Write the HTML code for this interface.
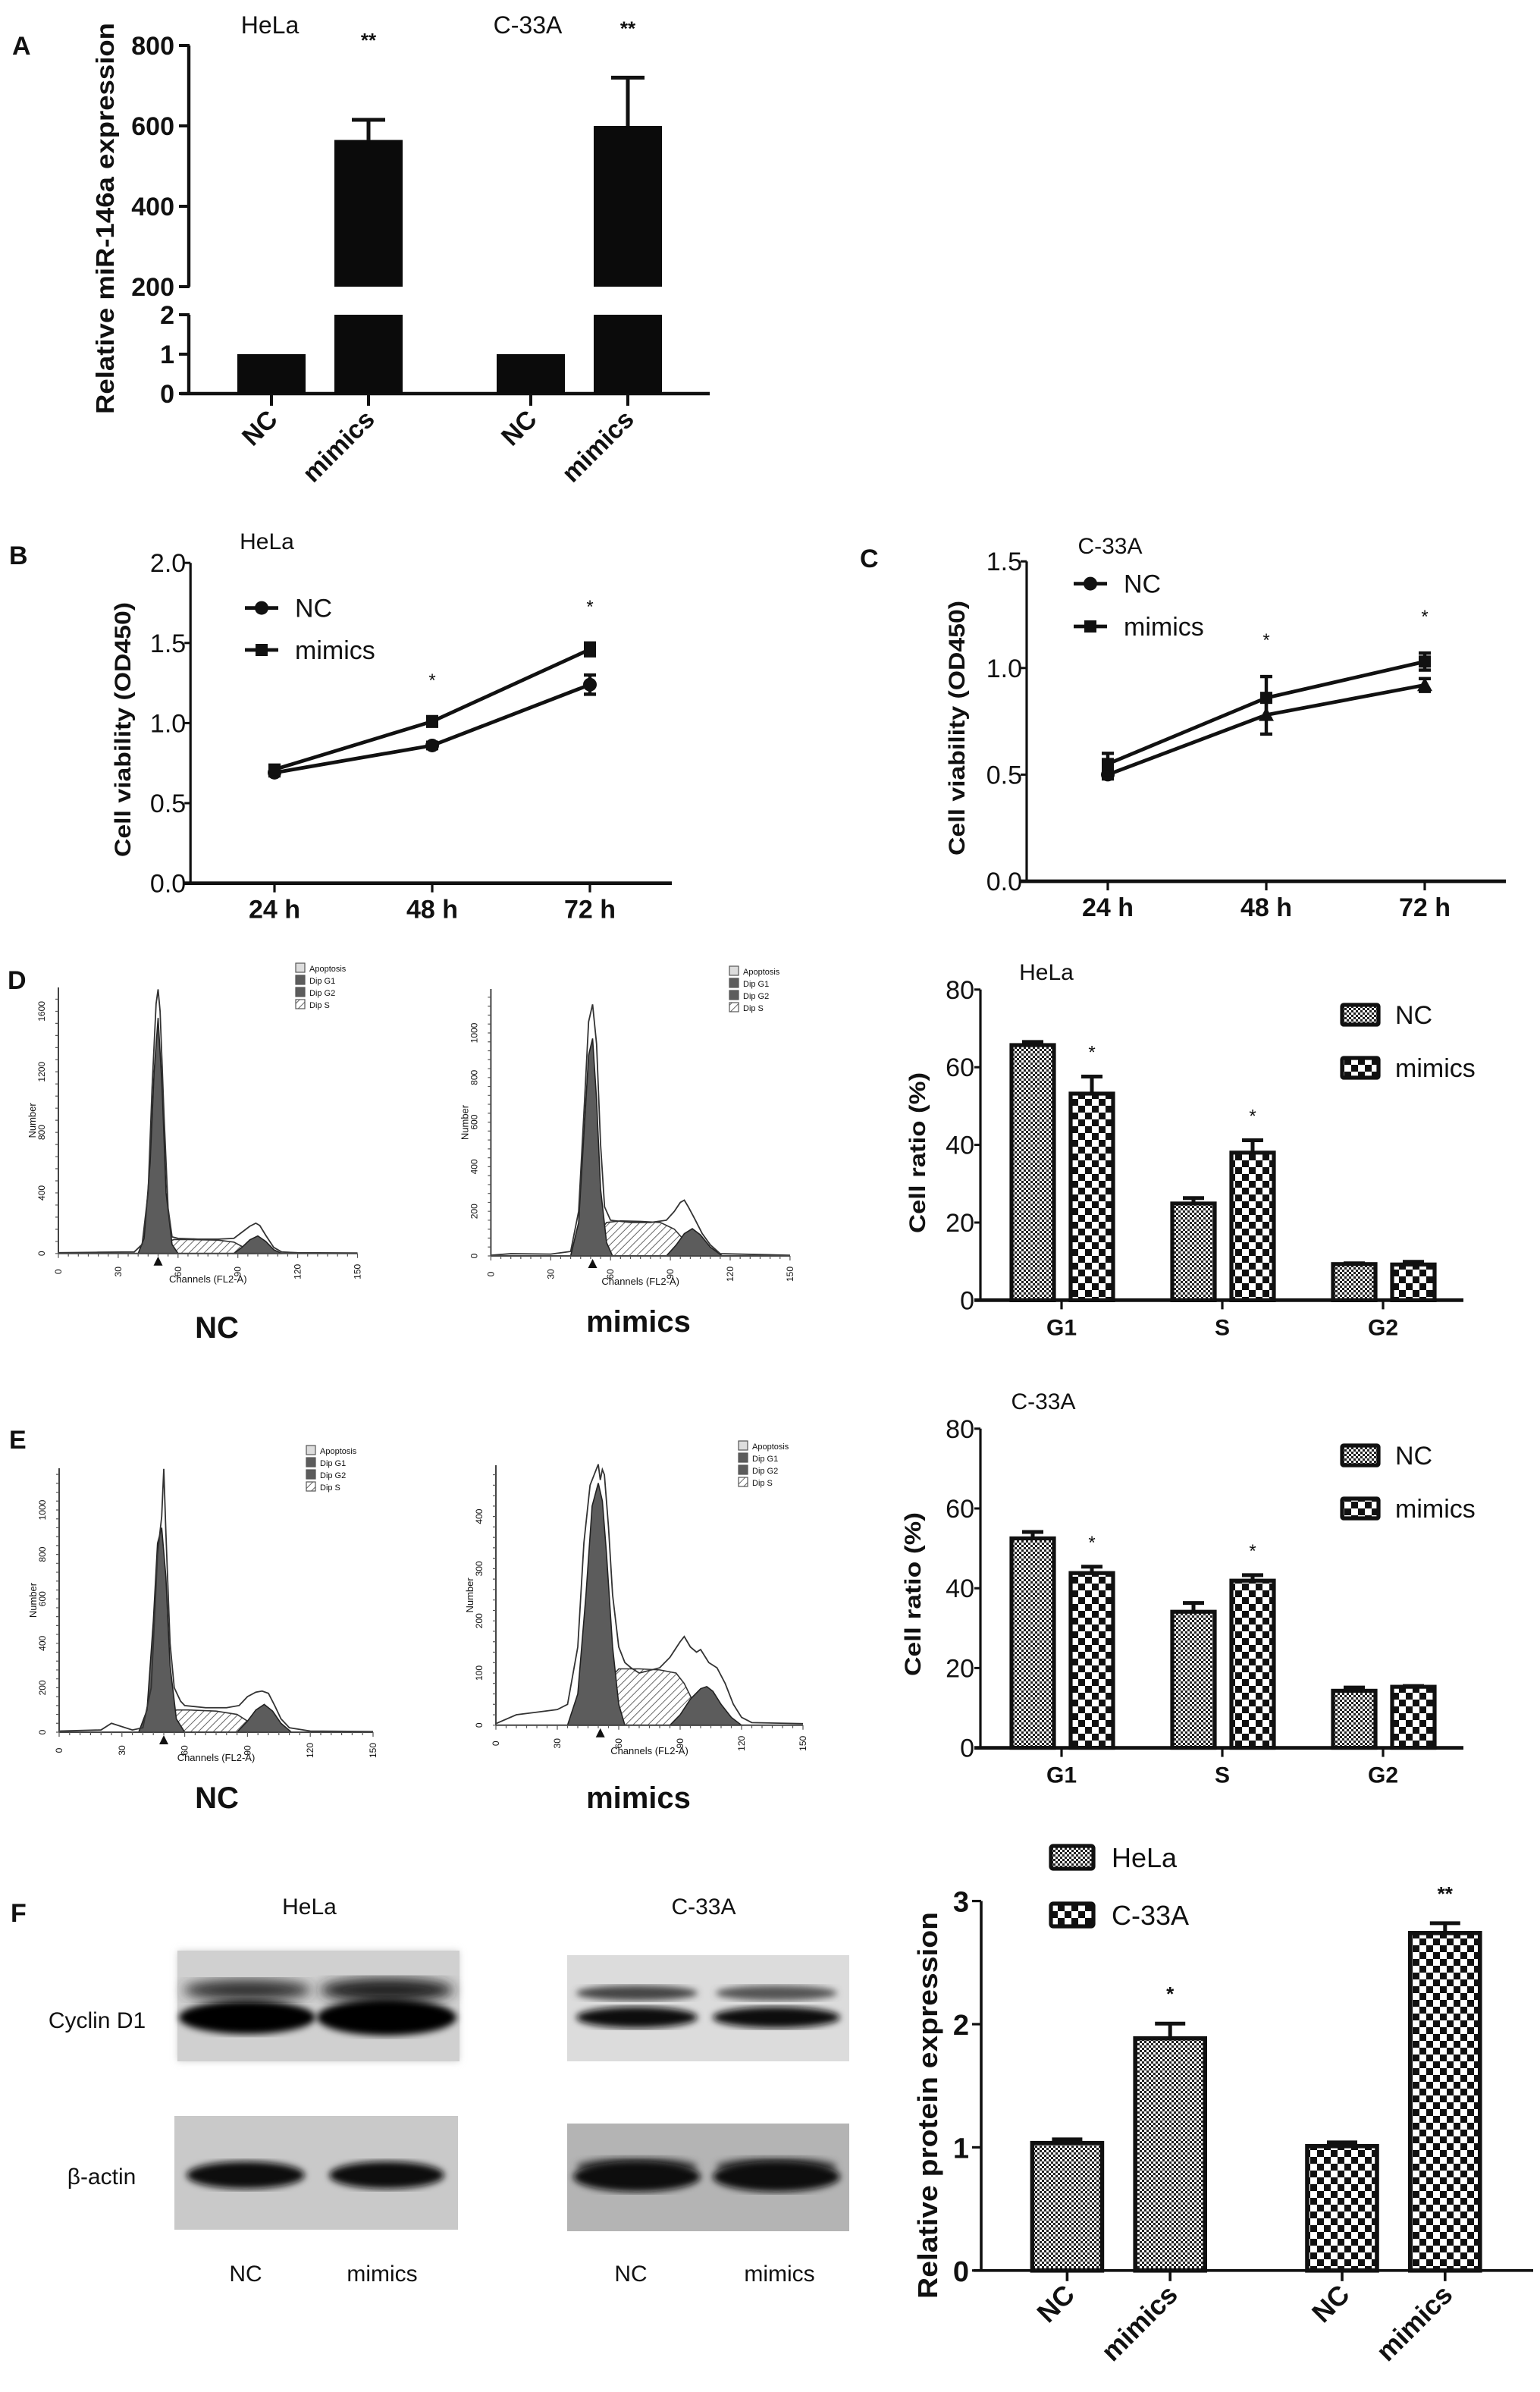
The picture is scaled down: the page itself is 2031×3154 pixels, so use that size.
<!DOCTYPE html>
<html><head><meta charset="utf-8">
<style>
html,body{margin:0;padding:0;background:#fff;}
svg{display:block;}
text{font-family:"Liberation Sans",sans-serif;fill:#111;}
.nar{font-family:"Liberation Sans Narrow","Liberation Sans",sans-serif;}
.b{font-weight:bold;}
</style></head>
<body>
<svg id="fig" xmlns="http://www.w3.org/2000/svg" width="2031" height="3154" viewBox="0 0 1015.5 1577">
<defs>
<pattern id="fine" width="3" height="3" patternUnits="userSpaceOnUse"><rect width="3" height="3" fill="#fff"/><rect width="1.5" height="1.5" fill="#222"/><rect x="1.5" y="1.5" width="1.5" height="1.5" fill="#222"/></pattern>
<pattern id="coarse" width="9" height="9" patternUnits="userSpaceOnUse"><rect width="9" height="9" fill="#fff"/><rect width="4.5" height="4.5" fill="#111"/><rect x="4.5" y="4.5" width="4.5" height="4.5" fill="#111"/></pattern>
<pattern id="hatch" width="3.5" height="3.5" patternUnits="userSpaceOnUse" patternTransform="rotate(45)"><rect width="3.5" height="3.5" fill="#fff"/><line x1="0" y1="0" x2="0" y2="3.5" stroke="#666" stroke-width="1"/></pattern>
<filter id="blur2"><feGaussianBlur stdDeviation="2.2"/></filter>
<filter id="blur4"><feGaussianBlur stdDeviation="4"/></filter>
</defs>

<!-- panel letters -->
<text x="8" y="36" font-size="17" class="b">A</text>
<text x="6" y="372" font-size="17" class="b">B</text>
<text x="567" y="374" font-size="17" class="b">C</text>
<text x="5" y="652" font-size="17" class="b">D</text>
<text x="6" y="955" font-size="17" class="b">E</text>
<text x="7" y="1267" font-size="17" class="b">F</text>

<!-- A texts -->
<text x="178" y="22" font-size="16" text-anchor="middle" class="nar">HeLa</text>
<text x="348" y="22" font-size="16" text-anchor="middle" class="nar">C-33A</text>
<text transform="translate(75,144) rotate(-90)" font-size="16.5" class="b" text-anchor="middle" textLength="258" lengthAdjust="spacingAndGlyphs">Relative miR-146a expression</text>

<!-- B/C texts -->
<text x="176" y="362" font-size="15" text-anchor="middle" class="nar">HeLa</text>
<text x="732" y="365" font-size="15" text-anchor="middle" class="nar">C-33A</text>
<text transform="translate(86,481) rotate(-90)" font-size="15" class="b" text-anchor="middle" textLength="168" lengthAdjust="spacingAndGlyphs">Cell viability (OD450)</text>
<text transform="translate(636,480) rotate(-90)" font-size="15" class="b" text-anchor="middle" textLength="168" lengthAdjust="spacingAndGlyphs">Cell viability (OD450)</text>

<!-- D/E right texts -->
<text x="690" y="646" font-size="15" text-anchor="middle" class="nar">HeLa</text>
<text x="688" y="929" font-size="15" text-anchor="middle" class="nar">C-33A</text>
<text transform="translate(610,760) rotate(-90)" font-size="15" class="b" text-anchor="middle" textLength="106" lengthAdjust="spacingAndGlyphs">Cell ratio (%)</text>
<text transform="translate(607,1051) rotate(-90)" font-size="15" class="b" text-anchor="middle" textLength="108" lengthAdjust="spacingAndGlyphs">Cell ratio (%)</text>
<text transform="translate(618,1388) rotate(-90)" font-size="18" class="b" text-anchor="middle" textLength="255" lengthAdjust="spacingAndGlyphs">Relative protein expression</text>

<!-- histogram captions -->
<text x="143" y="882" font-size="20" class="b nar" text-anchor="middle">NC</text>
<text x="421" y="878" font-size="20" class="b nar" text-anchor="middle">mimics</text>
<text x="143" y="1192" font-size="20" class="b nar" text-anchor="middle">NC</text>
<text x="421" y="1192" font-size="20" class="b nar" text-anchor="middle">mimics</text>

<!-- Western blots -->
<g>
<text x="204" y="1262" font-size="15" text-anchor="middle" class="nar">HeLa</text>
<text x="464" y="1262" font-size="15" text-anchor="middle" class="nar">C-33A</text>
<text x="64" y="1337" font-size="15" text-anchor="middle" class="nar">Cyclin D1</text>
<text x="67" y="1440" font-size="15" text-anchor="middle" class="nar">β-actin</text>
<text x="162" y="1504" font-size="15" text-anchor="middle" class="nar">NC</text>
<text x="252" y="1504" font-size="15" text-anchor="middle" class="nar">mimics</text>
<text x="416" y="1504" font-size="15" text-anchor="middle" class="nar">NC</text>
<text x="514" y="1504" font-size="15" text-anchor="middle" class="nar">mimics</text>
<g>
<rect x="117" y="1286" width="186" height="73" fill="#d2d2d2" filter="url(#blur2)"/>
<rect x="117" y="1286" width="186" height="73" fill="#d0d0d0"/>
<ellipse cx="163" cy="1312" rx="42" ry="7" fill="#333" filter="url(#blur4)"/>
<ellipse cx="255" cy="1312" rx="44" ry="8" fill="#222" filter="url(#blur4)"/>
<ellipse cx="163" cy="1330" rx="45" ry="11" fill="#050505" filter="url(#blur2)"/>
<ellipse cx="255" cy="1330" rx="46" ry="12" fill="#050505" filter="url(#blur2)"/>
</g>
<g>
<rect x="374" y="1289" width="186" height="70" fill="#dcdcdc"/>
<ellipse cx="420" cy="1314" rx="40" ry="5" fill="#444" filter="url(#blur2)"/>
<ellipse cx="512" cy="1314" rx="40" ry="5" fill="#555" filter="url(#blur2)"/>
<ellipse cx="420" cy="1330" rx="40" ry="7" fill="#111" filter="url(#blur2)"/>
<ellipse cx="512" cy="1330" rx="42" ry="7" fill="#111" filter="url(#blur2)"/>
</g>
<g>
<rect x="115" y="1395" width="187" height="75" fill="#c9c9c9"/>
<ellipse cx="162" cy="1434" rx="39" ry="9" fill="#080808" filter="url(#blur2)"/>
<ellipse cx="255" cy="1434" rx="38" ry="9" fill="#080808" filter="url(#blur2)"/>
</g>
<g>
<rect x="374" y="1400" width="186" height="71" fill="#b4b4b4"/>
<ellipse cx="420" cy="1428" rx="40" ry="6" fill="#555" filter="url(#blur2)"/>
<ellipse cx="512" cy="1428" rx="40" ry="6" fill="#555" filter="url(#blur2)"/>
<ellipse cx="420" cy="1435" rx="42" ry="10" fill="#080808" filter="url(#blur2)"/>
<ellipse cx="512" cy="1435" rx="42" ry="10" fill="#080808" filter="url(#blur2)"/>
</g>
</g>
</svg>

<script>
// ===== Panel A data =====
const aCats = ['NC', 'mimics', 'NC', 'mimics'];
const aVals = [1, 565, 1, 600];
const aErr = [0, 50, 0, 120];
const aSig = ['', '**', '', '**'];
const aTicksHi = [800, 600, 400, 200];
const aTicksLo = [2, 1, 0];
// ===== Panel B data =====
const bCats = ['24 h', '48 h', '72 h'];
const bNC = [0.69, 0.86, 1.24];
const bNCErr = [0.02, 0.02, 0.06];
const bMim = [0.71, 1.01, 1.46];
const bMimErr = [0.02, 0.03, 0.04];
const bSig = ['', '*', '*'];
const bTicks = [0.0, 0.5, 1.0, 1.5, 2.0];
// ===== Panel C data =====
const cCats = ['24 h', '48 h', '72 h'];
const cNC = [0.50, 0.78, 0.92];
const cNCErr = [0.02, 0.09, 0.03];
const cMim = [0.55, 0.86, 1.03];
const cMimErr = [0.05, 0.10, 0.04];
const cSig = ['', '*', '*'];
const cTicks = [0.0, 0.5, 1.0, 1.5];
// ===== Panel D/E bar data =====
const phaseCats = ['G1', 'S', 'G2'];
const dNC = [65.7, 24.9, 9.3];
const dNCErr = [0.8, 1.4, 0.2];
const dMim = [53.2, 38.0, 9.2];
const dMimErr = [4.4, 3.2, 0.7];
const dSig = ['*', '*', ''];
const eNC = [52.5, 34.1, 14.3];
const eNCErr = [1.6, 2.2, 0.8];
const eMim = [43.8, 41.9, 15.3];
const eMimErr = [1.6, 1.4, 0.2];
const eSig = ['*', '*', ''];
const ratioTicks = [0, 20, 40, 60, 80];
// ===== Panel F data =====
const fCats = ['NC', 'mimics', 'NC', 'mimics'];
const fVals = [1.035, 1.885, 1.01, 2.74];
const fErr = [0.03, 0.12, 0.03, 0.08];
const fSig = ['', '*', '', '**'];
const fTicks = [0, 1, 2, 3];
// ===== Flow histogram data (channel, count) =====
const dNcOutCh = [0,20,38,42,45,47,49,50,51,53,55,57,60,70,80,88,92,96,99,101,104,108,112,120,150];
const dNcOutN = [5,8,10,60,400,1100,1650,1745,1600,900,300,110,100,95,95,100,140,180,200,185,120,40,10,5,3];
const dNcG1Ch = [40,43,46,48,50,52,54,57,60];
const dNcG1N = [0,100,600,1200,1556,1100,400,60,0];
const dNcSCh = [45,50,55,58,65,80,88,93,98];
const dNcSN = [0,40,80,92,92,88,75,40,0];
const dNcG2Ch = [88,92,96,100,104,108,112];
const dNcG2N = [0,40,90,116,80,25,0];
const dNcTicks = [0,400,800,1200,1600];

const dMiOutCh = [0,10,30,40,44,47,49,51,53,55,57,60,70,80,88,92,95,97,99,102,106,110,115,150];
const dMiOutN = [3,10,8,20,200,700,1050,1128,950,500,220,160,150,150,160,200,240,250,220,170,100,50,10,3];
const dMiG1Ch = [40,44,47,49,51,53,55,58,61];
const dMiG1N = [0,150,600,900,975,700,300,60,0];
const dMiSCh = [45,52,58,65,75,85,92,98,104];
const dMiSN = [0,80,150,157,155,150,120,60,0];
const dMiG2Ch = [88,93,97,101,105,110,116];
const dMiG2N = [0,50,100,122,95,40,0];
const dMiTicks = [0,200,400,600,800,1000];

const eNcOutCh = [0,20,25,35,40,44,47,49,50,51,53,55,58,60,70,80,86,90,94,97,100,103,106,110,120,150];
const eNcOutN = [5,10,40,10,20,200,800,970,1185,900,400,200,140,120,110,110,120,160,180,185,175,120,60,20,5,3];
const eNcG1Ch = [38,42,45,47,49,51,53,56,60];
const eNcG1N = [0,100,500,850,920,700,300,60,0];
const eNcSCh = [42,50,56,62,75,85,90,95];
const eNcSN = [0,50,100,100,95,80,50,0];
const eNcG2Ch = [85,90,94,98,102,106,111];
const eNcG2N = [0,50,100,125,95,40,0];
const eNcTicks = [0,200,400,600,800,1000];

const eMiOutCh = [0,10,20,30,35,40,43,46,48,50,51,52,53,55,57,60,63,66,70,75,80,85,90,92,95,98,100,104,108,112,116,120,125,150];
const eMiOutN = [3,20,25,30,40,150,350,460,480,500,470,490,480,380,250,150,120,110,100,105,110,130,160,170,150,140,145,120,110,80,40,15,5,3];
const eMiG1Ch = [35,40,44,47,50,52,54,57,60,63];
const eMiG1N = [0,60,250,420,464,430,330,150,40,0];
const eMiSCh = [40,50,56,60,70,80,88,92,97,104];
const eMiSN = [0,40,90,108,108,106,100,80,40,0];
const eMiG2Ch = [85,90,95,100,103,106,110,115,120];
const eMiG2N = [0,20,50,70,74,65,40,15,0];
const eMiTicks = [0,100,200,300,400];
const chTicks = [0,30,60,90,120,150];
const histLegend = ['Apoptosis','Dip G1','Dip G2','Dip S'];

const NS = 'http://www.w3.org/2000/svg';
const SVG = document.getElementById('fig');
function mk(tag, attrs, parent) {
  const e = document.createElementNS(NS, tag);
  for (const k in attrs) e.setAttribute(k, attrs[k]);
  (parent || SVG).appendChild(e);
  return e;
}
function group(name) {
  const g = mk('g', {});
  
  
  return g;
}
function txt(parent, x, y, s, attrs) {
  const t = mk('text', Object.assign({x: x, y: y}, attrs), parent);
  t.textContent = s;
  return t;
}

// ================= Panel A =================
(function () {
  const g = group('panel-a-chart');
  const xA = i => 179 + i * 64 + (i >= 2 ? 43 : 0);
  const yA = v => v <= 2 ? 259.5 - v * 26 : 189 - (v - 200) * 0.265;
  let e;
  e = mk('line', {x1: 124.5, y1: yA(800), x2: 124.5, y2: yA(200), stroke: '#111', 'stroke-width': 2.2}, g);
  
  
  e = mk('line', {x1: 124.5, y1: yA(2), x2: 124.5, y2: yA(0), stroke: '#111', 'stroke-width': 2.2}, g);
  
  
  e = mk('line', {x1: 119, y1: yA(0), x2: 468, y2: yA(0), stroke: '#111', 'stroke-width': 2.2}, g);
  
  
  aTicksHi.concat(aTicksLo).forEach(v => {
    const t = mk('line', {x1: 118, y1: yA(v), x2: 125, y2: yA(v), stroke: '#111', 'stroke-width': 2}, g);
    
    
    const l = txt(g, 115, yA(v) + 6, String(v), {'font-size': 17, 'font-weight': 'bold', 'text-anchor': 'end', class: 'nar'});
    
    
  });
  aCats.forEach((c, i) => {
    const x = xA(i), w = 45;
    if (aVals[i] > 2) {
      const lo = mk('rect', {x: x - w / 2, y: yA(2), width: w, height: yA(0) - yA(2), fill: '#0b0b0b'}, g);
      
      
      const hi = mk('rect', {x: x - w / 2, y: yA(aVals[i]), width: w, height: yA(200) - yA(aVals[i]), fill: '#0b0b0b'}, g);
      
      
      const eb = mk('path', {d: `M${x},${yA(aVals[i])} V${yA(aVals[i] + aErr[i])} M${x - 11},${yA(aVals[i] + aErr[i])} H${x + 11}`, stroke: '#111', 'stroke-width': 2.5, fill: 'none'}, g);
      
      
    } else {
      const b = mk('rect', {x: x - w / 2, y: yA(aVals[i]), width: w, height: yA(0) - yA(aVals[i]), fill: '#0b0b0b'}, g);
      
      
    }
    const tk = mk('line', {x1: x, y1: yA(0), x2: x, y2: yA(0) + 8, stroke: '#111', 'stroke-width': 2}, g);
    
    
    const lb = txt(g, 0, 0, c, {'font-size': 17, 'font-weight': 'bold', 'text-anchor': 'end', transform: `translate(${x + 5},${yA(0) + 18}) rotate(-45)`});
    
    
    if (aSig[i]) {
      const s = txt(g, x, yA(aVals[i] + aErr[i]) - (i === 1 ? 48 : 28), aSig[i], {'font-size': 13, 'font-weight': 'bold', 'text-anchor': 'middle'});
      
      
    }
  });
})();

// ================= Line charts B & C =================
function lineChart(prefix, ax, yFn, ticks, x0, dx, xEnd, cats, nc, ncErr, mim, mimErr, sig, tri, legX, legY1, legY2) {
  const g = group(prefix + '-chart');
  const xF = i => x0 + i * dx;
  let e;
  e = mk('line', {x1: ax, y1: yFn(ticks[ticks.length - 1]), x2: ax, y2: yFn(0), stroke: '#111', 'stroke-width': 1.6}, g);
  
  
  e = mk('line', {x1: ax - 4, y1: yFn(0), x2: xEnd, y2: yFn(0), stroke: '#111', 'stroke-width': 2.4}, g);
  
  
  ticks.forEach(v => {
    const t = mk('line', {x1: ax - 4, y1: yFn(v), x2: ax, y2: yFn(v), stroke: '#111', 'stroke-width': 1.5}, g);
    
    
    const l = txt(g, ax - 3, yFn(v) + 6, v.toFixed(1), {'font-size': 17, 'text-anchor': 'end', class: 'nar'});
    
    
  });
  cats.forEach((c, i) => {
    const t = mk('line', {x1: xF(i), y1: yFn(0), x2: xF(i), y2: yFn(0) + 6, stroke: '#111', 'stroke-width': 1.6}, g);
    
    
    const l = txt(g, xF(i), yFn(0) + 23, c, {'font-size': 17, 'font-weight': 'bold', 'text-anchor': 'middle', class: 'nar'});
    
    
  });
  [[nc, ncErr, 'nc'], [mim, mimErr, 'mimics']].forEach(([vals, errs, nm]) => {
    const p = mk('polyline', {points: vals.map((v, i) => xF(i) + ',' + yFn(v)).join(' '), fill: 'none', stroke: '#111', 'stroke-width': 2.4}, g);
    
    
    vals.forEach((v, i) => {
      const eb = mk('path', {d: `M${xF(i)},${yFn(v - errs[i])} V${yFn(v + errs[i])} M${xF(i) - 4},${yFn(v - errs[i])} H${xF(i) + 4} M${xF(i) - 4},${yFn(v + errs[i])} H${xF(i) + 4}`, stroke: '#111', 'stroke-width': 2.2, fill: 'none'}, g);
      
      
      let m;
      if (nm === 'mimics') m = mk('rect', {x: xF(i) - 4, y: yFn(v) - 4, width: 8, height: 8, fill: '#111'}, g);
      else if (tri && i > 0) m = mk('path', {d: `M${xF(i)},${yFn(v) - 5} L${xF(i) + 5},${yFn(v) + 4} L${xF(i) - 5},${yFn(v) + 4}Z`, fill: '#111'}, g);
      else m = mk('circle', {cx: xF(i), cy: yFn(v), r: 4.5, fill: '#111'}, g);
      
      
    });
  });
  sig.forEach((s, i) => {
    if (!s) return;
    const top = Math.max(mim[i] + mimErr[i], nc[i] + ncErr[i]);
    const t = txt(g, xF(i), yFn(top) - 20, s, {'font-size': 12, 'text-anchor': 'middle'});
    
    
  });
  const lg1 = group(prefix + '-legend-nc');
  mk('line', {x1: legX - 11, y1: legY1, x2: legX + 11, y2: legY1, stroke: '#111', 'stroke-width': 2.4}, lg1);
  mk('circle', {cx: legX, cy: legY1, r: 4.5, fill: '#111'}, lg1);
  txt(lg1, legX + 22, legY1 + 6, 'NC', {'font-size': 17, class: 'nar'});
  const lg2 = group(prefix + '-legend-mimics');
  mk('line', {x1: legX - 11, y1: legY2, x2: legX + 11, y2: legY2, stroke: '#111', 'stroke-width': 2.4}, lg2);
  mk('rect', {x: legX - 4, y: legY2 - 4, width: 8, height: 8, fill: '#111'}, lg2);
  txt(lg2, legX + 22, legY2 + 6, 'mimics', {'font-size': 17, class: 'nar'});
}
lineChart('b', 125.6, v => 582.3 - v * 105.6, bTicks, 181, 104, 443, bCats, bNC, bNCErr, bMim, bMimErr, bSig, false, 172.5, 400.8, 428.5);
lineChart('c', 677, v => 581 - v * 140.6, cTicks, 730.5, 104.5, 993, cCats, cNC, cNCErr, cMim, cMimErr, cSig, true, 719, 384.8, 413);

// ================= Bar charts D, E (cell ratio) =================
function ratioChart(prefix, yFn, nc, ncErr, mim, mimErr, sig, legNC, legMim) {
  const g = group(prefix + '-ratio-chart');
  const ax = 646.5, cx = i => 700 + i * 106;
  let e;
  e = mk('line', {x1: ax, y1: yFn(80), x2: ax, y2: yFn(0), stroke: '#111', 'stroke-width': 1.6}, g);
  
  
  e = mk('line', {x1: ax - 4, y1: yFn(0), x2: 965, y2: yFn(0), stroke: '#111', 'stroke-width': 2.4}, g);
  
  
  ratioTicks.forEach(v => {
    const t = mk('line', {x1: ax - 4, y1: yFn(v), x2: ax, y2: yFn(v), stroke: '#111', 'stroke-width': 1.5}, g);
    
    
    const l = txt(g, ax - 4, yFn(v) + 6, String(v), {'font-size': 17, 'text-anchor': 'end', class: 'nar'});
    
    
  });
  phaseCats.forEach((c, i) => {
    const t = mk('line', {x1: cx(i), y1: yFn(0), x2: cx(i), y2: yFn(0) + 6, stroke: '#111', 'stroke-width': 1.6}, g);
    
    
    const l = txt(g, cx(i), yFn(0) + 23, c, {'font-size': 15, 'font-weight': 'bold', 'text-anchor': 'middle'});
    
    
    [[nc, ncErr, -33, 'url(#fine)', 'nc'], [mim, mimErr, 6, 'url(#coarse)', 'mimics']].forEach(([vals, errs, off, fill, nm]) => {
      const x = cx(i) + off, w = 28;
      const eb = mk('path', {d: `M${x + w / 2},${yFn(vals[i])} V${yFn(vals[i] + errs[i])} M${x + w / 2 - 7},${yFn(vals[i] + errs[i])} H${x + w / 2 + 7}`, stroke: '#111', 'stroke-width': 2.5, fill: 'none'}, g);
      
      
      const b = mk('rect', {x: x, y: yFn(vals[i]), width: w, height: yFn(0) - yFn(vals[i]), fill: fill, stroke: '#111', 'stroke-width': 2.6}, g);
      
      
    });
    if (sig[i]) {
      const s = txt(g, cx(i) + 20, yFn(mim[i] + mimErr[i]) - 12, sig[i], {'font-size': 12, 'text-anchor': 'middle'});
      
      
    }
  });
  const l1 = group(prefix + '-legend-nc');
  mk('rect', {x: 885, y: legNC - 6.5, width: 24, height: 13, fill: 'url(#fine)', stroke: '#111', 'stroke-width': 2.6, rx: 1}, l1);
  txt(l1, 920, legNC + 6, 'NC', {'font-size': 17, class: 'nar'});
  const l2 = group(prefix + '-legend-mimics');
  mk('rect', {x: 885, y: legMim - 6.5, width: 24, height: 13, fill: 'url(#coarse)', stroke: '#111', 'stroke-width': 2.6, rx: 1}, l2);
  txt(l2, 920, legMim + 6, 'mimics', {'font-size': 17, class: 'nar'});
}
ratioChart('d', v => 857.2 - v * 2.56, dNC, dNCErr, dMim, dMimErr, dSig, 669, 704);
ratioChart('e', v => 1152.3 - v * 2.63, eNC, eNCErr, eMim, eMimErr, eSig, 959.5, 994.5);

// ================= Panel F bar chart =================
(function () {
  const g = group('f-protein-chart');
  const ax = 647, xF = i => 703.7 + i * 67.9 + (i >= 2 ? 45.5 : 0), yF = v => 1496.9 - v * 81.2;
  let e;
  e = mk('line', {x1: ax, y1: yF(3), x2: ax, y2: yF(0), stroke: '#111', 'stroke-width': 1.8}, g);
  
  
  e = mk('line', {x1: ax - 5, y1: yF(0), x2: 1011, y2: yF(0), stroke: '#111', 'stroke-width': 1.8}, g);
  
  
  fTicks.forEach(v => {
    const t = mk('line', {x1: ax - 6, y1: yF(v), x2: ax, y2: yF(v), stroke: '#111', 'stroke-width': 1.6}, g);
    
    
    const l = txt(g, ax - 8, yF(v) + 7, String(v), {'font-size': 19, 'font-weight': 'bold', 'text-anchor': 'end'});
    
    
  });
  fCats.forEach((c, i) => {
    const x = xF(i), w = 46, fill = i < 2 ? 'url(#fine)' : 'url(#coarse)';
    const eb = mk('path', {d: `M${x},${yF(fVals[i])} V${yF(fVals[i] + fErr[i])} M${x - 10},${yF(fVals[i] + fErr[i])} H${x + 10}`, stroke: '#111', 'stroke-width': 2.5, fill: 'none'}, g);
    
    
    const b = mk('rect', {x: x - w / 2, y: yF(fVals[i]), width: w, height: yF(0) - yF(fVals[i]), fill: fill, stroke: '#111', 'stroke-width': 2.8}, g);
    
    
    const t = mk('line', {x1: x, y1: yF(0), x2: x, y2: yF(0) + 7, stroke: '#111', 'stroke-width': 1.8}, g);
    
    
    const l = txt(g, 0, 0, c, {'font-size': 18, 'font-weight': 'bold', 'text-anchor': 'end', transform: `translate(${x + 6},${yF(0) + 17}) rotate(-45)`});
    
    
    if (fSig[i]) {
      const s = txt(g, x, yF(fVals[i] + fErr[i]) - 15, fSig[i], {'font-size': 13, 'font-weight': 'bold', 'text-anchor': 'middle'});
      
      
    }
  });
  const l1 = group('f-legend-hela');
  mk('rect', {x: 693, y: 1217, width: 28, height: 15, fill: 'url(#fine)', stroke: '#111', 'stroke-width': 2.6, rx: 1.5}, l1);
  txt(l1, 733, 1231, 'HeLa', {'font-size': 18});
  const l2 = group('f-legend-c33a');
  mk('rect', {x: 693, y: 1255, width: 28, height: 15, fill: 'url(#coarse)', stroke: '#111', 'stroke-width': 2.6, rx: 1.5}, l2);
  txt(l2, 733, 1269, 'C-33A', {'font-size': 18});
})();

// ================= Flow histograms =================
function histogram(prefix, ax, base, top, chScale, cntScale, yTicks, outCh, outN, g1Ch, g1N, sCh, sN, g2Ch, g2N, legX, legY, arrowCh) {
  const g = group(prefix + '-histogram');
  const xH = c => ax + c * chScale, yH = n => base - n * cntScale;
  const area = (ch, n) => 'M' + xH(ch[0]) + ',' + base + ' ' + ch.map((c, i) => 'L' + xH(c) + ',' + yH(n[i])).join(' ') + ' L' + xH(ch[ch.length - 1]) + ',' + base + 'Z';
  let e;
  e = mk('path', {d: area(sCh, sN), fill: 'url(#hatch)', stroke: '#333', 'stroke-width': 0.8}, g);
  
  
  e = mk('path', {d: area(g1Ch, g1N), fill: '#5c5c5c', stroke: '#222', 'stroke-width': 0.8}, g);
  
  
  e = mk('path', {d: area(g2Ch, g2N), fill: '#5c5c5c', stroke: '#222', 'stroke-width': 0.8}, g);
  
  
  e = mk('polyline', {points: outCh.map((c, i) => xH(c) + ',' + yH(outN[i])).join(' '), fill: 'none', stroke: '#333', 'stroke-width': 0.9}, g);
  
  
  e = mk('line', {x1: ax, y1: top, x2: ax, y2: base, stroke: '#444', 'stroke-width': 1}, g);
  
  
  e = mk('line', {x1: ax, y1: base, x2: xH(150), y2: base, stroke: '#444', 'stroke-width': 1}, g);
  
  
  // minor ticks
  let d = '';
  for (let y = base; y >= top; y -= (yH(0) - yH(yTicks[1])) / 5) d += `M${ax - 2},${y} H${ax}`;
  for (let c = 0; c <= 150; c += 5) d += `M${xH(c)},${base} V${base + (c % 30 === 0 ? 3 : 2)}`;
  e = mk('path', {d: d, stroke: '#555', 'stroke-width': 0.6}, g);
  
  
  yTicks.forEach(v => {
    const l = txt(g, 0, 0, String(v), {'font-size': 6, 'text-anchor': 'middle', fill: '#555', transform: `translate(${ax - 9},${yH(v)}) rotate(-90)`});
    
    
  });
  chTicks.forEach(v => {
    const l = txt(g, 0, 0, String(v), {'font-size': 6, 'text-anchor': 'middle', fill: '#555', transform: `translate(${xH(v) + 2},${base + 12}) rotate(-90)`});
    
    
  });
  e = txt(g, xH(75), base + 19, 'Channels (FL2-A)', {'font-size': 6.5, 'text-anchor': 'middle', fill: '#555'});
  
  
  e = txt(g, 0, 0, 'Number', {'font-size': 6.5, 'text-anchor': 'middle', fill: '#555', transform: `translate(${ax - 15},${(top + base) / 2}) rotate(-90)`});
  
  
  e = mk('path', {d: `M${xH(arrowCh)},${base + 2} l3,6 h-6z`, fill: '#111'}, g);
  
  
  const fills = ['#ddd', '#5c5c5c', '#5c5c5c', 'url(#hatch)'];
  histLegend.forEach((s, i) => {
    const r = mk('rect', {x: legX, y: legY + i * 8, width: 6, height: 6, fill: fills[i], stroke: '#555', 'stroke-width': 0.6}, g);
    
    
    const t = txt(g, legX + 9, legY + i * 8 + 5.5, s, {'font-size': 5.5, fill: '#555'});
    
    
  });
}
histogram('d-nc', 38.5, 826.4, 651, 1.315, 0.0998, dNcTicks, dNcOutCh, dNcOutN, dNcG1Ch, dNcG1N, dNcSCh, dNcSN, dNcG2Ch, dNcG2N, 195, 635, 50);
histogram('d-mimics', 323.7, 828, 652, 1.315, 0.147, dMiTicks, dMiOutCh, dMiOutN, dMiG1Ch, dMiG1N, dMiSCh, dMiSN, dMiG2Ch, dMiG2N, 481, 637, 51);
histogram('e-nc', 39, 1142, 968, 1.38, 0.1465, eNcTicks, eNcOutCh, eNcOutN, eNcG1Ch, eNcG1N, eNcSCh, eNcSN, eNcG2Ch, eNcG2N, 202, 953, 50);
histogram('e-mimics', 327, 1137.4, 966, 1.35, 0.344, eMiTicks, eMiOutCh, eMiOutN, eMiG1Ch, eMiG1N, eMiSCh, eMiSN, eMiG2Ch, eMiG2N, 487, 950, 51);
</script>
</body></html>
